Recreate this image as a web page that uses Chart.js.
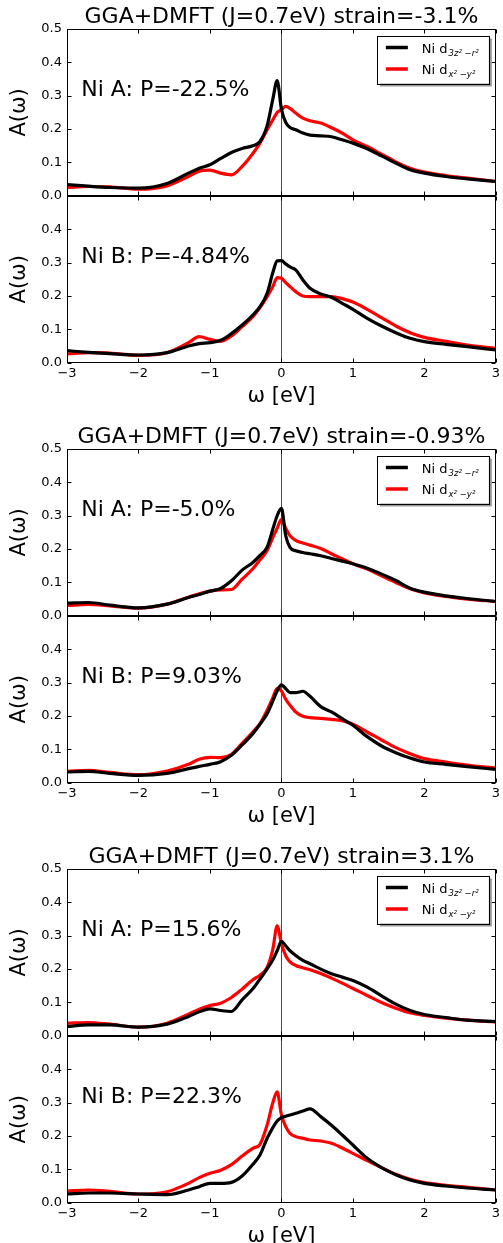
<!DOCTYPE html>
<html>
<head>
<meta charset="utf-8">
<script src="https://cdn.jsdelivr.net/npm/chart.js@4.4.1/dist/chart.umd.min.js"></script>
<style>
    body { margin:0; background:#fff; overflow:hidden; width:503px; height:1243px; position:relative; }
    canvas { position:absolute; left:0; }
</style>
</head>
<body>
<canvas id="grupo0" width="503" height="420" style="top:0px"></canvas>
<canvas id="grupo1" width="503" height="420" style="top:420px"></canvas>
<canvas id="grupo2" width="503" height="420" style="top:840px"></canvas>
<script>
// energia (eV)
const omega = [-3, -2.7, -2.4, -2, -1.6, -1.3, -1.15, -1, -0.85, -0.7, -0.55, -0.4, -0.3, -0.2, -0.12, -0.06,
    0, 0.06, 0.12, 0.2, 0.3, 0.4, 0.55, 0.7, 0.85, 1, 1.2, 1.4, 1.6, 1.8, 2, 2.3, 2.6, 3];

// strain = -3.1%
const d3z_A1 = [0.034,0.029,0.025,0.023, 0.037,0.068,0.083,0.093, 0.112,0.13,0.142,0.15, 0.163,0.21,0.29,0.345,
    0.26,0.22,0.205,0.198, 0.188,0.182,0.18,0.177, 0.168,0.158,0.141,0.12, 0.098,0.078,0.068,0.058, 0.051,0.043];
const dx2_A1 = [0.025,0.028,0.027,0.02, 0.03,0.058,0.074,0.077, 0.068,0.063,0.088,0.127, 0.158,0.198,0.228,0.25,
    0.258,0.268,0.262,0.248, 0.233,0.225,0.218,0.204, 0.188,0.168,0.148,0.125, 0.102,0.083,0.071,0.061, 0.053,0.043];
const d3z_B1 = [0.036,0.031,0.027,0.023, 0.03,0.05,0.057,0.06, 0.067,0.087,0.113,0.143, 0.168,0.208,0.27,0.305,
    0.306,0.296,0.287,0.278, 0.248,0.223,0.206,0.196, 0.178,0.16,0.133,0.11, 0.09,0.073,0.063,0.055, 0.048,0.038];
const dx2_B1 = [0.026,0.03,0.029,0.022, 0.03,0.06,0.078,0.07, 0.064,0.08,0.108,0.138, 0.165,0.198,0.228,0.255,
    0.253,0.24,0.228,0.213, 0.2,0.198,0.198,0.198, 0.192,0.182,0.16,0.135, 0.11,0.09,0.076,0.064, 0.053,0.043];

// strain = -0.93%
const d3z_A2 = [0.038,0.04,0.032,0.024, 0.035,0.055,0.064,0.074, 0.082,0.105,0.137,0.16, 0.181,0.206,0.26,0.3,
    0.322,0.24,0.205,0.195, 0.19,0.186,0.18,0.172, 0.164,0.156,0.143,0.125, 0.106,0.083,0.071,0.06, 0.052,0.043];
const dx2_A2 = [0.031,0.034,0.03,0.023, 0.035,0.056,0.066,0.074, 0.078,0.079,0.11,0.141, 0.168,0.196,0.235,0.262,
    0.289,0.262,0.24,0.226, 0.218,0.212,0.202,0.186, 0.171,0.156,0.14,0.12, 0.1,0.081,0.069,0.058, 0.05,0.043];
const d3z_B2 = [0.032,0.034,0.028,0.022, 0.028,0.042,0.049,0.055, 0.063,0.082,0.113,0.147, 0.175,0.207,0.245,0.275,
    0.293,0.282,0.27,0.27, 0.274,0.259,0.228,0.212, 0.192,0.172,0.138,0.11, 0.09,0.074,0.062,0.055, 0.048,0.04];
const dx2_B2 = [0.034,0.037,0.031,0.024, 0.035,0.055,0.07,0.076, 0.075,0.085,0.118,0.152, 0.177,0.217,0.255,0.283,
    0.275,0.25,0.232,0.212, 0.199,0.195,0.193,0.19, 0.186,0.175,0.152,0.128, 0.105,0.087,0.072,0.062, 0.053,0.044];

// strain = 3.1%
const d3z_A3 = [0.028,0.033,0.033,0.026, 0.035,0.058,0.072,0.081, 0.076,0.073,0.108,0.141, 0.17,0.201,0.228,0.255,
    0.283,0.27,0.255,0.241, 0.226,0.216,0.2,0.186, 0.176,0.166,0.146,0.12, 0.095,0.076,0.064,0.055, 0.047,0.043];
const dx2_A3 = [0.038,0.04,0.035,0.026, 0.038,0.065,0.08,0.091, 0.098,0.115,0.14,0.168, 0.182,0.205,0.26,0.33,
    0.276,0.24,0.222,0.211, 0.204,0.198,0.187,0.173, 0.158,0.142,0.121,0.1, 0.083,0.069,0.061,0.053, 0.047,0.041];
const d3z_B3 = [0.026,0.029,0.029,0.026, 0.024,0.038,0.048,0.058, 0.058,0.061,0.08,0.115, 0.143,0.193,0.225,0.245,
    0.255,0.259,0.263,0.268, 0.275,0.281,0.258,0.232, 0.203,0.173,0.133,0.105, 0.084,0.068,0.058,0.05, 0.044,0.038];
const dx2_B3 = [0.035,0.038,0.034,0.026, 0.033,0.058,0.075,0.088, 0.097,0.114,0.14,0.163, 0.175,0.233,0.3,0.332,
    0.263,0.228,0.208,0.198, 0.193,0.188,0.185,0.178, 0.164,0.148,0.126,0.105, 0.085,0.07,0.06,0.052, 0.046,0.038];

const strains = ['-3.1%', '-0.93%', '3.1%'];
const polA = ['-22.5%', '-5.0%', '15.6%'];
const polB = ['-4.84%', '9.03%', '22.3%'];
const seriesA = [[d3z_A1, dx2_A1], [d3z_A2, dx2_A2], [d3z_A3, dx2_A3]];
const seriesB = [[d3z_B1, dx2_B1], [d3z_B2, dx2_B2], [d3z_B3, dx2_B3]];

const xTicks = [-3, -2, -1, 0, 1, 2, 3];
const yTicksA = [0, 0.1, 0.2, 0.3, 0.4, 0.5];
const yTicksB = [0, 0.1, 0.2, 0.3, 0.4];
const legendSub = ['3z\u00b2 \u2212r\u00b2', 'x\u00b2 \u2212y\u00b2'];
const colores = ['#000000', '#ff0000'];

const FUENTE = "'DejaVu Sans', sans-serif";

// marco, ticks hacia adentro, linea en 0, textos y leyenda
const marcoPlugin = {
    id: 'marco',
    beforeDatasetsDraw(chart){
        const {ctx, chartArea, scales} = chart;
        const x0 = Math.round(scales.x.getPixelForValue(0)) + 0.5;
        ctx.save();
        ctx.strokeStyle = 'rgba(0,0,0,0.7)';
        ctx.lineWidth = 1;
        ctx.beginPath();
        ctx.moveTo(x0, chartArea.top);
        ctx.lineTo(x0, chartArea.bottom);
        ctx.stroke();
        ctx.restore();
    },
    afterDatasetsDraw(chart, args, opts){
        const {ctx, chartArea, scales} = chart;
        const sx = scales.x;
        const L = Math.round(chartArea.left) + 0.5;
        const R = Math.round(chartArea.right) - 0.5;
        ctx.save();
        ctx.strokeStyle = '#000';
        ctx.lineWidth = 1;
        ['yA', 'yB'].forEach(function(id, k){
            const sy = scales[id];
            const T = Math.round(sy.top) + 0.5;
            const B = Math.round(sy.bottom) - 0.5;
            ctx.strokeRect(L, T, R - L, B - T);
            ctx.beginPath();
            xTicks.forEach(function(v){
                const px = Math.round(sx.getPixelForValue(v)) + 0.5;
                ctx.moveTo(px, T); ctx.lineTo(px, T + 4);
                ctx.moveTo(px, B); ctx.lineTo(px, B - 4);
            });
            yTicksA.forEach(function(v){
                const py = Math.round(sy.getPixelForValue(v)) + 0.5;
                ctx.moveTo(L, py); ctx.lineTo(L + 4, py);
                ctx.moveTo(R, py); ctx.lineTo(R - 4, py);
            });
            ctx.stroke();

            // texto Ni A / Ni B
            ctx.fillStyle = '#000';
            ctx.font = "22px " + FUENTE;
            ctx.textAlign = 'left';
            ctx.textBaseline = 'alphabetic';
            ctx.fillText(opts.textos[k], sx.getPixelForValue(-2.8), sy.getPixelForValue(0.3));
        });

        // leyenda
        const sy = scales.yA;
        const bx = chartArea.right - 119, by = sy.top + 6.5, bw = 112, bh = 48;
        ctx.fillStyle = '#999';
        ctx.fillRect(bx + 3, by + 3, bw, bh);
        ctx.fillStyle = '#fff';
        ctx.fillRect(bx, by, bw, bh);
        ctx.strokeStyle = '#000';
        ctx.strokeRect(Math.round(bx) + 0.5, Math.round(by) + 0.5, bw, bh);
        chart.data.datasets.slice(0, 2).forEach(function(ds, i){
            const ly = by + 12 + i * 21.5;
            ctx.strokeStyle = ds.borderColor;
            ctx.lineWidth = 3.5;
            ctx.beginPath();
            ctx.moveTo(bx + 9, ly);
            ctx.lineTo(bx + 31, ly);
            ctx.stroke();
            ctx.fillStyle = '#000';
            ctx.font = "13px " + FUENTE;
            ctx.textAlign = 'left';
            ctx.fillText('Ni d', bx + 45, ly + 5);
            const w = ctx.measureText('Ni d').width;
            ctx.font = "italic 8.5px " + FUENTE;
            ctx.fillText(legendSub[i], bx + 45 + w + 1, ly + 8);
        });
        ctx.restore();
    }
};

function puntos(arr){
    return omega.map(function(w, i){ return {x: w, y: arr[i]}; });
}

function formatoX(v){
    return v < 0 ? '\u2212' + Math.abs(v) : String(v);
}

function ejeY(peso, ticks){
    return {
        type: 'linear',
        position: 'left',
        stack: 'panel',
        stackWeight: 1,
        weight: peso,
        min: 0,
        max: 0.5,
        afterBuildTicks: function(s){ s.ticks = ticks.map(function(v){ return {value: v}; }); },
        afterFit: function(s){ s.width = 67; },
        grid: { display: false, drawTicks: false },
        border: { display: false },
        ticks: {
            color: '#000',
            padding: 5,
            font: { family: FUENTE, size: 13 },
            callback: function(v){ return v.toFixed(1); }
        },
        title: {
            display: true,
            text: 'A(\u03c9)',
            color: '#000',
            font: { family: FUENTE, size: 21 },
            padding: { top: 7, bottom: 0 }
        }
    };
}

function graficoGrupo(g){
    const ctx = document.getElementById('grupo' + g);
    const linea = function(arr, i, eje){
        return { label: eje + i, data: puntos(arr), yAxisID: eje, borderColor: colores[i],
            borderWidth: 3.2, pointRadius: 0, cubicInterpolationMode: 'monotone', fill: false };
    };
    // negro primero, rojo encima
    const datasets = [
        linea(seriesA[g][0], 0, 'yA'),
        linea(seriesA[g][1], 1, 'yA'),
        linea(seriesB[g][0], 0, 'yB'),
        linea(seriesB[g][1], 1, 'yB')
    ];

    new Chart(ctx, {
        type: 'line',
        data: { datasets: datasets },
        plugins: [marcoPlugin],
        options: {
            responsive: false,
            animation: false,
            layout: { padding: { left: 0, right: 6, top: 0, bottom: 0 } },
            scales: {
                x: {
                    type: 'linear',
                    position: 'bottom',
                    min: -3,
                    max: 3,
                    afterBuildTicks: function(s){ s.ticks = xTicks.map(function(v){ return {value: v}; }); },
                    afterFit: function(s){ s.height = 57.3; },
                    grid: { display: false, drawTicks: false },
                    border: { display: false },
                    ticks: {
                        color: '#000',
                        padding: 3,
                        maxRotation: 0,
                        autoSkip: false,
                        font: { family: FUENTE, size: 13 },
                        callback: formatoX
                    },
                    title: {
                        display: true,
                        text: '\u03c9 [eV]',
                        color: '#000',
                        font: { family: FUENTE, size: 21 },
                        padding: { top: 0, bottom: 11 }
                    }
                },
                yA: ejeY(2, yTicksA),
                yB: ejeY(1, yTicksB)
            },
            plugins: {
                legend: { display: false },
                tooltip: { enabled: false },
                title: {
                    display: true,
                    fullSize: false,
                    text: 'GGA+DMFT (J=0.7eV) strain=' + strains[g],
                    color: '#000',
                    font: { family: FUENTE, size: 22, weight: 'normal', lineHeight: 1.0 },
                    padding: { top: 6, bottom: 1 }
                },
                marco: { textos: ['Ni A: P=' + polA[g], 'Ni B: P=' + polB[g]] }
            }
        }
    });
}

[0, 1, 2].forEach(graficoGrupo);
</script>
</body>
</html>
